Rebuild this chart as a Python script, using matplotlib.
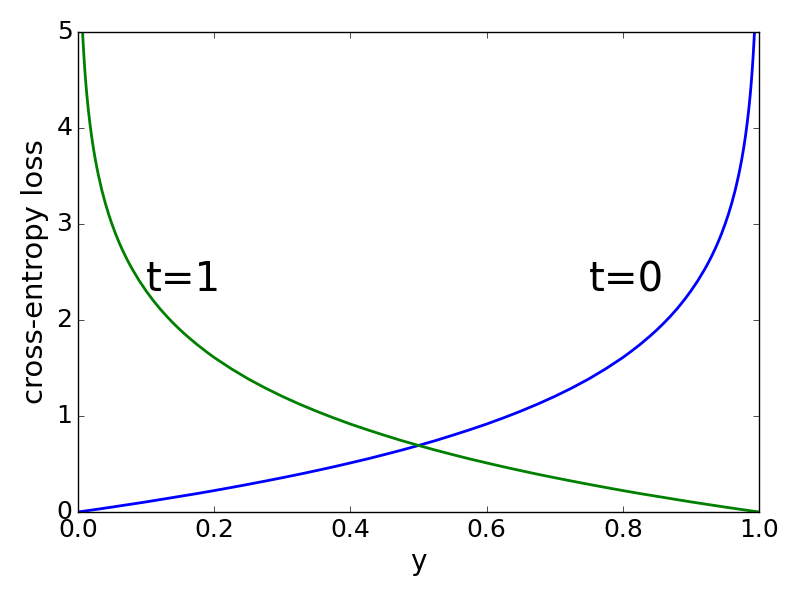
import matplotlib
matplotlib.use('Agg')
import matplotlib.pyplot as plt

plt.style.use('classic')

# values
y_t1 = [0.0067, 0.0075, 0.0085, 0.01, 0.0115, 0.013, 0.015, 0.0175, 0.02, 0.0225,
        0.025, 0.0275, 0.03, 0.035, 0.04, 0.045, 0.05, 0.055, 0.06, 0.065, 0.07,
        0.075, 0.08, 0.09, 0.1, 0.11, 0.12, 0.13, 0.14, 0.15, 0.16, 0.175, 0.19,
        0.2, 0.225, 0.25, 0.275, 0.3, 0.325, 0.35, 0.375, 0.4, 0.425, 0.45, 0.475,
        0.5, 0.525, 0.55, 0.575, 0.6, 0.625, 0.65, 0.675, 0.7, 0.725, 0.75, 0.775,
        0.8, 0.825, 0.85, 0.875, 0.9, 0.925, 0.95, 0.975, 1.0]
loss_t1 = [5.000, 4.893, 4.768, 4.605, 4.465, 4.343, 4.200, 4.046, 3.912, 3.794,
           3.689, 3.594, 3.507, 3.352, 3.219, 3.101, 2.996, 2.900, 2.813, 2.733, 2.659,
           2.590, 2.526, 2.408, 2.303, 2.207, 2.120, 2.040, 1.966, 1.897, 1.833, 1.743, 1.661,
           1.609, 1.492, 1.386, 1.291, 1.204, 1.124, 1.050, 0.981, 0.916, 0.856, 0.799, 0.744,
           0.693, 0.644, 0.598, 0.553, 0.511, 0.470, 0.431, 0.393, 0.357, 0.322, 0.288, 0.255,
           0.223, 0.192, 0.163, 0.134, 0.105, 0.078, 0.051, 0.025, 0.000]

y_t0 = [0.0, 0.025, 0.05, 0.075, 0.1, 0.125, 0.15, 0.175, 0.2, 0.225, 0.25,
        0.275, 0.3, 0.325, 0.35, 0.375, 0.4, 0.425, 0.45, 0.475, 0.5, 0.525,
        0.55, 0.575, 0.6, 0.625, 0.65, 0.675, 0.7, 0.725, 0.75, 0.775, 0.8, 0.81,
        0.825, 0.84, 0.85, 0.86, 0.87, 0.88, 0.89, 0.9, 0.91, 0.92, 0.925, 0.93,
        0.935, 0.94, 0.945, 0.95, 0.955, 0.96, 0.965, 0.97, 0.9725, 0.975, 0.9775,
        0.98, 0.9825, 0.985, 0.987, 0.9885, 0.99, 0.9915, 0.9925, 0.9933]
loss_t0 = [0.000, 0.025, 0.051, 0.078, 0.105, 0.134, 0.163, 0.192, 0.223, 0.255, 0.288,
           0.322, 0.357, 0.393, 0.431, 0.470, 0.511, 0.553, 0.598, 0.644, 0.693, 0.744,
           0.799, 0.856, 0.916, 0.981, 1.050, 1.124, 1.204, 1.291, 1.386, 1.492, 1.609, 1.661,
           1.743, 1.833, 1.897, 1.966, 2.040, 2.120, 2.207, 2.303, 2.408, 2.526, 2.590, 2.659,
           2.733, 2.813, 2.900, 2.996, 3.101, 3.219, 3.352, 3.507, 3.594, 3.689, 3.794,
           3.912, 4.046, 4.200, 4.343, 4.465, 4.605, 4.768, 4.893, 5.000]

fig = plt.figure(figsize=(8, 6), dpi=100)
ax = fig.add_axes([0.0975, 0.1467, 0.8513, 0.8])

ax.plot(y_t0, loss_t0, 'b-', linewidth=2)
ax.plot(y_t1, loss_t1, 'g-', linewidth=2)

ax.text(0.1, 2.3, 't=1', fontsize=29)
ax.text(0.75, 2.3, 't=0', fontsize=29)

ax.set_xlim(0, 1)
ax.set_ylim(0, 5)
ax.set_xlabel('y', fontsize=20)
ax.set_ylabel('cross-entropy loss', fontsize=21)
ax.tick_params(labelsize=18)

fig.savefig('out.png', dpi=100)
